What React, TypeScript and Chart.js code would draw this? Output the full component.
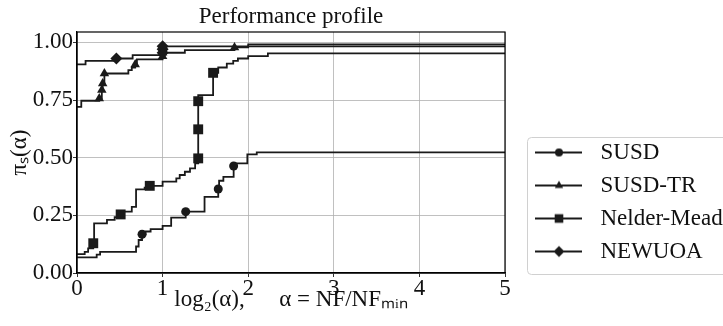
import React, { useEffect, useRef } from 'react';
import { Chart, registerables } from 'chart.js';

Chart.register(...registerables);

// ---------- data ----------
const seriesNames = ['SUSD', 'SUSD-TR', 'Nelder-Mead', 'NEWUOA'];

const xTickValues = [0, 1, 2, 3, 4, 5];
const xTickLabels = ['0', '1', '2', '3', '4', '5'];
const yTickValues = [0, 0.25, 0.5, 0.75, 1.0];
const yTickLabels = ['0.00', '0.25', '0.50', '0.75', '1.00'];

const susdX = [0, 0.23, 0.27, 0.69, 0.72, 0.76, 0.8, 0.86, 1.0, 1.1, 1.27, 1.49, 1.65, 1.66, 1.71, 1.83, 1.84, 1.99, 2.1, 5];
const susdY = [0.068, 0.08, 0.092, 0.115, 0.143, 0.168, 0.18, 0.19, 0.204, 0.24, 0.266, 0.33, 0.364, 0.4, 0.417, 0.464, 0.475, 0.514, 0.523, 0.523];
const susdMarkX = [0.76, 1.27, 1.65, 1.83];
const susdMarkY = [0.168, 0.266, 0.364, 0.464];

const susdTrX = [0, 0.05, 0.26, 0.29, 0.3, 0.32, 0.6, 0.64, 0.68, 0.7, 1.0, 1.0, 1.26, 1.84, 2.0, 5];
const susdTrY = [0.72, 0.747, 0.757, 0.793, 0.822, 0.865, 0.88, 0.891, 0.904, 0.926, 0.94, 0.955, 0.966, 0.978, 0.983, 0.983];
const susdTrMarkX = [0.26, 0.29, 0.3, 0.32, 0.68, 1.0, 1.0, 1.84];
const susdTrMarkY = [0.757, 0.793, 0.822, 0.865, 0.904, 0.94, 0.955, 0.978];

const nmX = [0, 0.09, 0.13, 0.19, 0.2, 0.35, 0.44, 0.51, 0.52, 0.64, 0.69, 0.79, 0.85, 1.0, 1.16, 1.2, 1.26, 1.32, 1.38, 1.416, 1.416, 1.416, 1.416, 1.59, 1.65, 1.75, 1.825, 1.88, 2.0, 2.23, 5];
const nmY = [0.082, 0.092, 0.107, 0.129, 0.215, 0.23, 0.242, 0.254, 0.266, 0.287, 0.363, 0.37, 0.378, 0.396, 0.41, 0.425, 0.439, 0.454, 0.475, 0.497, 0.623, 0.745, 0.771, 0.868, 0.891, 0.908, 0.92, 0.93, 0.94, 0.952, 0.952];
const nmMarkX = [0.19, 0.51, 0.85, 1.416, 1.416, 1.416, 1.59];
const nmMarkY = [0.129, 0.254, 0.378, 0.497, 0.623, 0.745, 0.868];

const newuoaX = [0, 0.1, 0.46, 0.65, 1.0, 1.0, 1.0, 2.0, 5];
const newuoaY = [0.905, 0.92, 0.93, 0.945, 0.955, 0.97, 0.983, 0.991, 0.991];
const newuoaMarkX = [0.46, 1.0, 1.0, 1.0];
const newuoaMarkY = [0.93, 0.955, 0.97, 0.983];

// ---------- styling ----------
const FONT = "'Liberation Serif', 'Times New Roman', serif";
const FS = 23;
const INK = '#1a1a1a';
const LEGEND_W = 218;

type Shape = 'circle' | 'triangle' | 'rect' | 'rectRot';
const shapes: Shape[] = ['circle', 'triangle', 'rect', 'rectRot'];
const markerRadius = [4.5, 5.5, 7, 6];

const pts = (xs: number[], ys: number[]) => xs.map((x, i) => ({ x, y: ys[i] }));

function legendImage(shape: Shape): HTMLCanvasElement {
  const c = document.createElement('canvas');
  c.width = 74;
  c.height = 18;
  const g = c.getContext('2d')!;
  g.strokeStyle = INK;
  g.fillStyle = INK;
  g.lineWidth = 1.8;
  g.beginPath();
  g.moveTo(20, 9);
  g.lineTo(67, 9);
  g.stroke();
  const cx = 44, cy = 9;
  g.beginPath();
  if (shape === 'circle') {
    g.arc(cx, cy, 4, 0, Math.PI * 2);
  } else if (shape === 'triangle') {
    const r = 4.8;
    g.moveTo(cx, cy - r);
    g.lineTo(cx + r * 0.866, cy + r * 0.5);
    g.lineTo(cx - r * 0.866, cy + r * 0.5);
    g.closePath();
  } else if (shape === 'rect') {
    g.rect(cx - 4.3, cy - 4.3, 8.6, 8.6);
  } else {
    const r = 5.5;
    g.moveTo(cx, cy - r);
    g.lineTo(cx + r, cy);
    g.lineTo(cx, cy + r);
    g.lineTo(cx - r, cy);
    g.closePath();
  }
  g.fill();
  return c;
}

const framePlugin = {
  id: 'frameAndLegendBox',
  afterInit(chart: any) {
    const lg = chart.legend;
    if (lg && !lg.__patched) {
      const orig = lg.fit.bind(lg);
      lg.fit = () => {
        orig();
        lg.width = LEGEND_W;
      };
      lg.__patched = true;
    }
  },
  afterDraw(chart: any) {
    const { ctx, chartArea } = chart;
    ctx.save();
    ctx.strokeStyle = '#000';
    ctx.lineWidth = 1.2;
    ctx.strokeRect(chartArea.left, chartArea.top, chartArea.right - chartArea.left, chartArea.bottom - chartArea.top);
    const lg = chart.legend;
    if (lg && lg.legendHitBoxes && lg.legendHitBoxes.length) {
      const hb = lg.legendHitBoxes;
      const top = hb[0].top - 4;
      const bottom = hb[hb.length - 1].top + 34;
      const left = lg.left + 22;
      const right = chart.width + 10;
      ctx.strokeStyle = '#d0d0d0';
      ctx.lineWidth = 1;
      ctx.beginPath();
      (ctx as any).roundRect(left + 0.5, top + 0.5, right - left, bottom - top, 4);
      ctx.stroke();
    }
    ctx.restore();
  },
};

export default function App() {
  const ref = useRef<HTMLCanvasElement>(null);

  useEffect(() => {
    document.body.style.margin = '0';
    const lines = [
      pts(susdX, susdY),
      pts(susdTrX, susdTrY),
      pts(nmX, nmY),
      pts(newuoaX, newuoaY),
    ];
    const marks = [
      pts(susdMarkX, susdMarkY),
      pts(susdTrMarkX, susdTrMarkY),
      pts(nmMarkX, nmMarkY),
      pts(newuoaMarkX, newuoaMarkY),
    ];
    const lineSets = seriesNames.map((name, i) => ({
      type: 'line' as const,
      label: name,
      data: lines[i],
      stepped: true as const,
      borderColor: INK,
      backgroundColor: INK,
      borderWidth: 1.8,
      pointRadius: 0,
      pointHoverRadius: 0,
      pointStyle: legendImage(shapes[i]),
      fill: false,
      order: 2,
    }));
    const markSets = seriesNames.map((name, i) => ({
      type: 'line' as const,
      label: name + ' markers',
      data: marks[i],
      showLine: false,
      borderColor: INK,
      backgroundColor: INK,
      borderWidth: 0,
      pointRadius: markerRadius[i],
      pointHoverRadius: markerRadius[i],
      pointStyle: shapes[i],
      order: 1,
    }));

    const tickFont = { family: FONT, size: FS, lineHeight: 1 };
    const chart = new Chart(ref.current!, {
      type: 'line',
      data: { datasets: [...lineSets, ...markSets] as any },
      options: {
        responsive: false,
        animation: false,
        events: [],
        layout: { padding: 0 },
        plugins: {
          tooltip: { enabled: false },
          title: {
            display: true,
            text: 'Performance profile',
            fullSize: false,
            color: '#111',
            font: { family: FONT, size: FS, weight: 'normal', lineHeight: 1.2 },
            padding: { top: 3, bottom: 1.4 },
          },
          legend: {
            display: true,
            position: 'right',
            align: 'end',
            fullSize: false,
            labels: {
              filter: (item: any) => item.datasetIndex < 4,
              sort: (a: any, b: any) => a.datasetIndex - b.datasetIndex,
              usePointStyle: true,
              pointStyleWidth: 74,
              padding: 10,
              color: '#111',
              font: { family: FONT, size: FS },
            },
          },
        },
        scales: {
          x: {
            type: 'linear',
            min: 0,
            max: 5,
            afterBuildTicks: (s: any) => {
              s.ticks = xTickValues.map((v) => ({ value: v }));
            },
            afterFit: (s: any) => {
              s.height = 53;
            },
            ticks: {
              callback: (_v: any, i: number) => xTickLabels[i],
              color: '#111',
              font: tickFont,
              padding: 0,
              maxRotation: 0,
            },
            grid: { color: '#b0b0b0', lineWidth: 0.8, tickColor: '#000', tickLength: 4, drawTicks: true },
            border: { color: '#000', width: 1.2 },
            title: {
              display: true,
              text: 'log\u2082(\u03b1), \u2003 \u03b1 = NF/NF\u2098\u1d62\u2099',
              color: '#111',
              font: { family: FONT, size: FS, lineHeight: 1.2 },
              padding: { top: 0, bottom: 12.2 },
            },
          },
          y: {
            type: 'linear',
            min: 0,
            max: 1.045,
            afterBuildTicks: (s: any) => {
              s.ticks = yTickValues.map((v) => ({ value: v }));
            },
            afterFit: (s: any) => {
              s.width = 77;
            },
            ticks: {
              callback: (_v: any, i: number) => yTickLabels[i],
              color: '#111',
              font: tickFont,
              padding: 0,
              includeBounds: false,
            },
            grid: { color: '#b0b0b0', lineWidth: 0.8, tickColor: '#000', tickLength: 4, drawTicks: true },
            border: { color: '#000', width: 1.2 },
            title: {
              display: true,
              text: '\u03c0\u209b(\u03b1)',
              color: '#111',
              font: { family: FONT, size: FS, lineHeight: 1.2 },
              padding: { top: 6.2, bottom: 0 },
            },
          },
        },
      },
      plugins: [framePlugin],
    } as any);
    return () => chart.destroy();
  }, []);

  return (
    <div style={{ width: 723, height: 326 }}>
      <canvas ref={ref} width={723} height={326} style={{ display: 'block' }} />
    </div>
  );
}
